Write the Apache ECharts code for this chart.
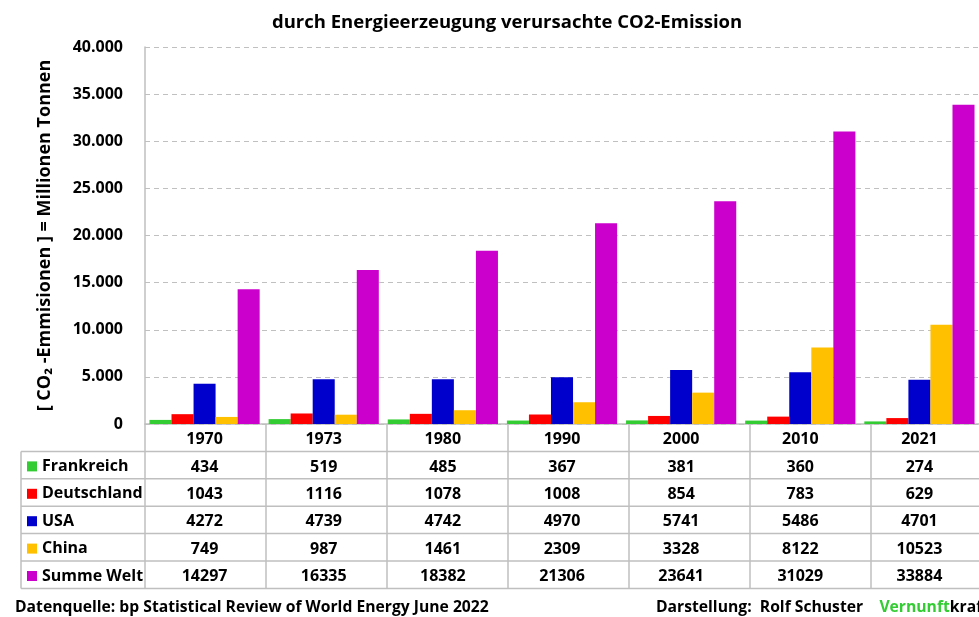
<!DOCTYPE html>
<html><head><meta charset="utf-8">
<script src="https://cdn.jsdelivr.net/npm/echarts@6/dist/echarts.min.js"></script>
<style>html,body{margin:0;padding:0;background:#fff}#c{width:979px;height:617px}</style>
</head><body><div id="c"></div>
<script>
const years = ['1970','1973','1980','1990','2000','2010','2021'];
const frankreich = [434, 519, 485, 367, 381, 360, 274];
const deutschland = [1043, 1116, 1078, 1008, 854, 783, 629];
const usa = [4272, 4739, 4742, 4970, 5741, 5486, 4701];
const china = [749, 987, 1461, 2309, 3328, 8122, 10523];
const welt = [14297, 16335, 18382, 21306, 23641, 31029, 33884];
const seriesNames = ['Frankreich','Deutschland','USA','China','Summe Welt'];
const seriesData = [frankreich, deutschland, usa, china, welt];
const colors = ['#33cc33','#ff0000','#0000cc','#ffc000','#cc00cc'];

const FONT = '"Open Sans"';
const L = 145, T = 47, W = 847, H = 377;
const ROW = 27.4;
const cw = W / years.length;
const lineColor = '#bfbfbf';

const chart = echarts.init(document.getElementById('c'), null, {renderer:'canvas'});

const graphics = [];
const rowYs = [];
for (let i = 0; i <= 5; i++) rowYs.push(T + H + ROW * (i + 1));
rowYs.forEach(y => graphics.push({type:'line', shape:{x1:21, y1:y, x2:L+W, y2:y}, style:{stroke:lineColor, lineWidth:1.5}, silent:true}));
for (let i = 0; i <= years.length; i++) {
  const x = L + cw * i;
  graphics.push({type:'line', shape:{x1:x, y1:T+H, x2:x, y2:rowYs[5]}, style:{stroke:lineColor, lineWidth:1.5}, silent:true});
}
graphics.push({type:'line', shape:{x1:21, y1:rowYs[0], x2:21, y2:rowYs[5]}, style:{stroke:lineColor, lineWidth:1.5}, silent:true});
graphics.push({type:'text', x:15, y:608, style:{text:'Datenquelle: bp Statistical Review of World Energy June 2022', font:'bold 15.7px '+FONT, fill:'#000', verticalAlign:'middle'}});
graphics.push({type:'text', x:656, y:608, style:{text:'{a|Darstellung:  Rolf Schuster    }{g|Vernunft}{a|kraft}', font:'bold 15.7px '+FONT, verticalAlign:'middle', rich:{a:{font:'bold 15.7px '+FONT, fill:'#000'}, g:{font:'bold 15.7px '+FONT, fill:'#33cc33'}}}});

chart.setOption({
  animation:false,
  color: colors,
  title:{text:'durch Energieerzeugung verursachte CO2-Emission', left:267, top:8, textStyle:{fontFamily:FONT, fontWeight:'bold', fontSize:18.5, color:'#000'}},
  legend:{orient:'vertical', left:27, top:rowYs[0]+6, padding:0, itemWidth:10, itemHeight:10, itemGap:9.4, icon:'rect',
    data: seriesNames, selectedMode:false,
    textStyle:{fontFamily:FONT, fontWeight:'bold', fontSize:16, color:'#000', lineHeight:18, padding:[0,0,0,0]}},
  grid:{left:L, top:T, width:W, height:H, containLabel:false},
  xAxis:{type:'category', data:years,
    axisLine:{show:true, lineStyle:{color:lineColor, width:1.5}}, axisTick:{show:false},
    axisLabel:{margin:2, interval:0, lineHeight:ROW, fontFamily:FONT, fontWeight:'bold', fontSize:16, color:'#000', align:'center',
      formatter:(v, idx) => [v].concat(seriesData.map(s => String(s[idx]))).join('\n')}},
  yAxis:{type:'value', min:0, max:40000, interval:5000,
    name:'[ CO₂ -Emmisionen ] = Millionen Tonnen', nameLocation:'middle', nameGap:91, nameRotate:90,
    nameTextStyle:{fontFamily:FONT, fontWeight:'bold', fontSize:18, color:'#000'},
    axisLine:{show:true, lineStyle:{color:lineColor, width:1.5}}, axisTick:{show:false},
    splitLine:{lineStyle:{color:'#c0c0c0', type:[5,4], width:1}},
    axisLabel:{margin:22, fontFamily:FONT, fontWeight:'bold', fontSize:16, color:'#000', padding:[3,0,0,0],
      formatter:v => v === 0 ? '0' : v.toLocaleString('de-DE')}},
  series: seriesNames.map((n, i) => ({name:n, type:'bar', data:seriesData[i], barGap:'0%', barCategoryGap:'7.5%', itemStyle:{color:colors[i]}})),
  graphic: graphics
});
</script></body></html>
